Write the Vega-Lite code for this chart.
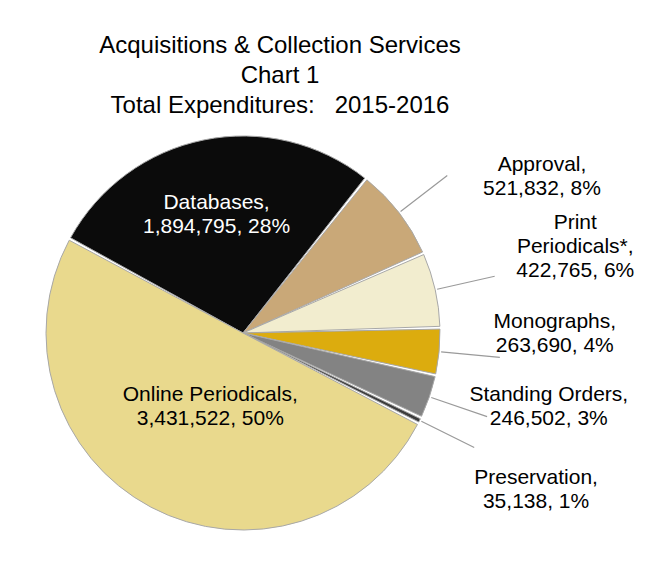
{
  "$schema": "https://vega.github.io/schema/vega-lite/v6.json",
  "autosize": {"type": "none"},
  "width": 486,
  "height": 366,
  "padding": {"left": 0, "top": 150, "right": 179, "bottom": 60},
  "background": "#ffffff",
  "config": {"view": {"stroke": null}, "font": "Liberation Sans"},
  "title": {
    "text": ["Acquisitions & Collection Services", "Chart 1", "Total Expenditures:\u00a0\u00a0 2015-2016"],
    "fontSize": 24,
    "fontWeight": "normal",
    "font": "Liberation Sans",
    "color": "#000000",
    "lineHeight": 30,
    "anchor": "middle",
    "frame": "group",
    "dx": 37,
    "offset": -138
  },
  "data": {
    "values": [
      {"ord": 1, "category": "Databases", "value": 1894795, "label": "Databases,\n1,894,795, 28%"},
      {"ord": 2, "category": "Approval", "value": 521832, "label": "Approval,\n521,832, 8%"},
      {"ord": 3, "category": "Print Periodicals*", "value": 422765, "label": "Print\nPeriodicals*,\n422,765, 6%"},
      {"ord": 4, "category": "Monographs", "value": 263690, "label": "Monographs,\n263,690, 4%"},
      {"ord": 5, "category": "Standing Orders", "value": 246502, "label": "Standing Orders,\n246,502, 3%"},
      {"ord": 6, "category": "Preservation", "value": 35138, "label": "Preservation,\n35,138, 1%"},
      {"ord": 7, "category": "Online Periodicals", "value": 3431522, "label": "Online Periodicals,\n3,431,522, 50%"}
    ]
  },
  "encoding": {
    "theta": {"field": "value", "type": "quantitative", "stack": true, "scale": {"range": [-1.0734, 5.2098]}},
    "order": {"field": "ord", "type": "quantitative"}
  },
  "layer": [
    {
      "mark": {"type": "arc", "radius": 197, "padAngle": 0.014, "stroke": "#a8a8a8", "strokeWidth": 1},
      "encoding": {
        "color": {
          "field": "category",
          "type": "nominal",
          "scale": {
            "domain": ["Databases", "Approval", "Print Periodicals*", "Monographs", "Standing Orders", "Preservation", "Online Periodicals"],
            "range": ["#0b0b0b", "#c9a878", "#f2edcf", "#dcac0e", "#838383", "#3c3c3c", "#e9d98d"]
          },
          "legend": null
        }
      }
    },
    {
      "mark": {"type": "arc", "radius": 258, "radius2": 199, "padAngle": 0.6, "filled": false, "stroke": "#9a9a9a", "strokeWidth": 1.2},
      "encoding": {
        "strokeOpacity": {
          "condition": {"test": "datum.category === 'Databases' || datum.category === 'Online Periodicals'", "value": 0},
          "value": 1
        }
      }
    },
    {
      "mark": {"type": "text", "radius": 133, "fontSize": 21, "lineBreak": "\n", "lineHeight": 24, "color": "#ffffff", "align": "center", "baseline": "middle"},
      "encoding": {
        "text": {"condition": {"test": "datum.category === 'Databases'", "field": "label", "type": "nominal"}, "value": ""}
      }
    },
    {
      "mark": {"type": "text", "radius": 70, "fontSize": 21, "lineBreak": "\n", "lineHeight": 24, "color": "#000000", "align": "center", "baseline": "middle"},
      "encoding": {
        "text": {"condition": {"test": "datum.category === 'Online Periodicals'", "field": "label", "type": "nominal"}, "value": ""}
      }
    },
    {
      "mark": {"type": "text", "radius": 343, "thetaOffset": 0.145, "fontSize": 21, "lineBreak": "\n", "lineHeight": 24, "color": "#000000", "align": "center", "baseline": "middle"},
      "encoding": {
        "text": {"condition": {"test": "datum.category === 'Approval'", "field": "label", "type": "nominal"}, "value": ""}
      }
    },
    {
      "mark": {"type": "text", "radius": 350, "thetaOffset": -0.098, "fontSize": 21, "lineBreak": "\n", "lineHeight": 24, "color": "#000000", "align": "center", "baseline": "middle"},
      "encoding": {
        "text": {"condition": {"test": "datum.category === 'Print Periodicals*'", "field": "label", "type": "nominal"}, "value": ""}
      }
    },
    {
      "mark": {"type": "text", "radius": 312, "thetaOffset": -0.13, "fontSize": 21, "lineBreak": "\n", "lineHeight": 24, "color": "#000000", "align": "center", "baseline": "middle"},
      "encoding": {
        "text": {"condition": {"test": "datum.category === 'Monographs' || datum.category === 'Standing Orders'", "field": "label", "type": "nominal"}, "value": ""}
      }
    },
    {
      "mark": {"type": "text", "radius": 327, "fontSize": 21, "lineBreak": "\n", "lineHeight": 24, "color": "#000000", "align": "center", "baseline": "middle"},
      "encoding": {
        "text": {"condition": {"test": "datum.category === 'Preservation'", "field": "label", "type": "nominal"}, "value": ""}
      }
    }
  ]
}
